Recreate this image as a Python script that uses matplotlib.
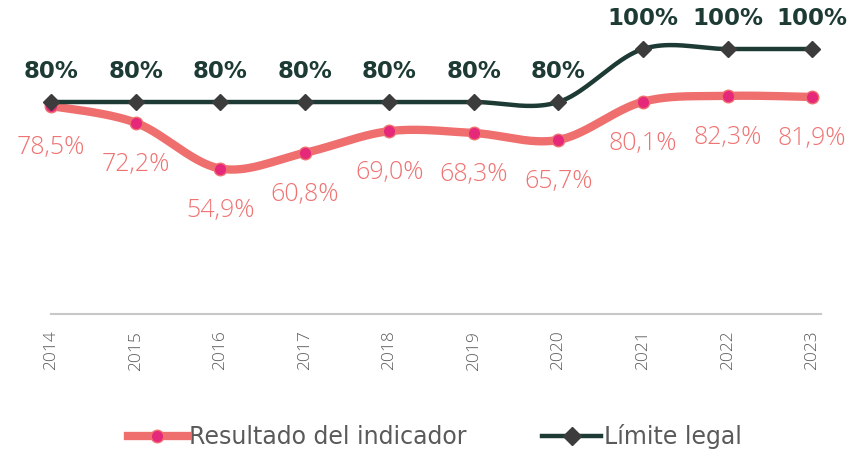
import matplotlib
matplotlib.use("Agg")
import matplotlib.pyplot as plt
from matplotlib.lines import Line2D
import numpy as np

# data
years = ["2014", "2015", "2016", "2017", "2018", "2019", "2020", "2021", "2022", "2023"]
resultado = [78.5, 72.2, 54.9, 60.8, 69.0, 68.3, 65.7, 80.1, 82.3, 81.9]
limite = [80, 80, 80, 80, 80, 80, 80, 100, 100, 100]
resultado_labels = ["78,5%", "72,2%", "54,9%", "60,8%", "69,0%", "68,3%", "65,7%", "80,1%", "82,3%", "81,9%"]
limite_labels = ["80%", "80%", "80%", "80%", "80%", "80%", "80%", "100%", "100%", "100%"]

PINK_LINE = "#EF6E6E"
PINK_MARK = "#E5287A"
PINK_TEXT = "#EF7373"
DARK_LINE = "#1D3B34"
DARK_MARK = "#3C3C3C"
GRAY = "#5A5A5A"


# excel-like smoothed line: bezier segments through the points
def smooth(xs, ys, n=40):
    xs = np.asarray(xs, float)
    ys = np.asarray(ys, float)
    px = np.concatenate([[xs[0]], xs, [xs[-1]]])
    py = np.concatenate([[ys[0]], ys, [ys[-1]]])
    outx, outy = [], []
    t = np.linspace(0, 1, n)
    for i in range(1, len(px) - 2):
        x0, y0 = px[i], py[i]
        x3, y3 = px[i + 1], py[i + 1]
        x1 = x0 + (px[i + 1] - px[i - 1]) / 6
        y1 = y0 + (py[i + 1] - py[i - 1]) / 6
        x2 = x3 - (px[i + 2] - px[i]) / 6
        y2 = y3 - (py[i + 2] - py[i]) / 6
        bx = (1 - t) ** 3 * x0 + 3 * (1 - t) ** 2 * t * x1 + 3 * (1 - t) * t ** 2 * x2 + t ** 3 * x3
        by = (1 - t) ** 3 * y0 + 3 * (1 - t) ** 2 * t * y1 + 3 * (1 - t) * t ** 2 * y2 + t ** 3 * y3
        outx.extend(bx)
        outy.extend(by)
    return np.array(outx), np.array(outy)


fig = plt.figure(figsize=(8.61, 4.5), dpi=100)
ax = fig.add_axes([51 / 861, 1 - 314 / 450, (820.6 - 51) / 861, (314 - 49) / 450])

x = np.arange(len(years))

sx, sy = smooth(x, resultado)
ax.plot(sx, sy, color=PINK_LINE, lw=6, solid_capstyle="round", clip_on=False, zorder=2)
ax.plot(x, resultado, ls="none", marker="o", ms=9, mfc=PINK_MARK, mec=PINK_LINE, mew=1,
        clip_on=False, zorder=3)

lx, ly = smooth(x, limite)
ax.plot(lx, ly, color=DARK_LINE, lw=3.2, clip_on=False, zorder=4)
ax.plot(x, limite, ls="none", marker="D", ms=8, mfc=DARK_MARK, mec=DARK_MARK,
        clip_on=False, zorder=5)

for xi, v, lab in zip(x, resultado, resultado_labels):
    ax.annotate(lab, (xi, v), xytext=(0, -30), textcoords="offset points", ha="center", va="center",
                color=PINK_TEXT, fontsize=18, family=["Open Sans", "DejaVu Sans"], fontweight="light")

for xi, v, lab in zip(x, limite, limite_labels):
    ax.annotate(lab, (xi, v), xytext=(0, 22), textcoords="offset points", ha="center", va="center",
                color=DARK_LINE, fontsize=16.5, family="DejaVu Sans", fontweight="bold")

ax.set_xlim(0, 9.1)
ax.set_ylim(0, 100)
ax.set_xticks(x)
ax.set_xticklabels(years, rotation=90, color=GRAY, fontsize=12.5,
                   family=["Open Sans", "DejaVu Sans"], fontweight="light")
ax.tick_params(axis="x", length=0, pad=12)
ax.set_yticks([])
for s in ["top", "right", "left"]:
    ax.spines[s].set_visible(False)
ax.spines["bottom"].set_color("#C8C8C8")
ax.spines["bottom"].set_linewidth(1.5)

handles = [
    Line2D([], [], color=PINK_LINE, lw=6, marker="o", ms=9, mfc=PINK_MARK, mec=PINK_LINE),
    Line2D([], [], color=DARK_LINE, lw=3.2, marker="D", ms=9, mfc=DARK_MARK, mec=DARK_MARK),
]
fig.legend(handles, ["Resultado del indicador", "Límite legal"], loc="center", bbox_to_anchor=(0.505, 0.03),
           ncol=2, frameon=False, handlelength=2.5, handletextpad=0.1, columnspacing=3.2,
           prop={"family": "DejaVu Sans", "size": 17},
           labelcolor=GRAY)

fig.savefig("out.png", dpi=100)
